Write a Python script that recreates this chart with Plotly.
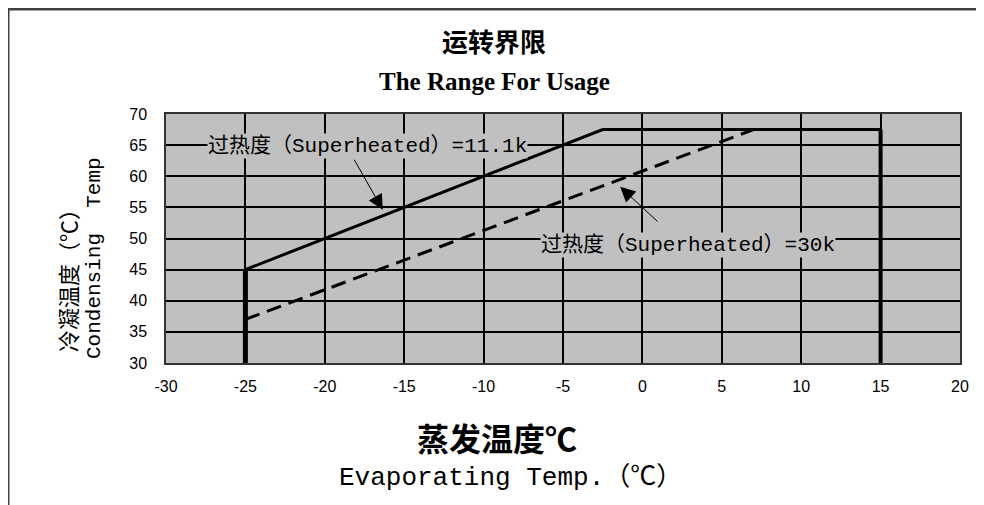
import plotly.graph_objects as go

# ---- data ----
x_ticks = [-30, -25, -20, -15, -10, -5, 0, 5, 10, 15, 20]
x_tick_labels = ["-30", "-25", "-20", "-15", "-10", "-5", "0", "5", "10", "15", "20"]
y_ticks = [30, 35, 40, 45, 50, 55, 60, 65, 70]
y_tick_labels = ["30", "35", "40", "45", "50", "55", "60", "65", "70"]

# superheat 11.1k envelope (solid)
sh11_x = [-25, -2.5, 15]
sh11_y = [45, 67.5, 67.5]
left_wall_x = [-25, -25]
left_wall_y = [30, 45]
right_wall_x = [15, 15]
right_wall_y = [30, 67.5]

# superheat 30k line (dashed)
sh30_x = [-25, 7]
sh30_y = [37, 67.5]

label_11 = "过热度（Superheated）=11.1k"
label_30 = "过热度（Superheated）=30k"
label_11_pos = (-17.3, 64.9)
label_30_pos = (2.9, 49.0)
arrow_11 = ((-18.2, 62.9), (-16.35, 54.6))  # (tail, tip)
arrow_30 = ((1.05, 52.5), (-1.4, 58.3))

title_cn = "运转界限"
title_en = "The Range For Usage"
xtitle_cn = "蒸发温度℃"
xtitle_en = "Evaporating Temp.（℃）"
ytitle_cn = "冷凝温度（℃）"
ytitle_en = "Condensing  Temp"

# page has an 8px body margin: work in screen pixels, convert to figure pixels
OFF = 8
W, H = 984 - OFF, 505 - OFF
PL, PR, PT, PB = 166, 960, 114, 363  # plot box in screen pixels
L, R, T, B = PL - OFF, (W + OFF) - PR, PT - OFF, (H + OFF) - PB
PW, PH = W - L - R, H - T - B


def px(xs):
    return (xs - OFF - L) / PW


def py(ys):
    return 1 - (ys - OFF - T) / PH


fig = go.Figure()
fig.add_trace(go.Scatter(x=sh30_x, y=sh30_y, mode="lines",
                         line=dict(color="black", width=3, dash="15px,8px"),
                         showlegend=False, hoverinfo="skip"))
fig.add_trace(go.Scatter(x=sh11_x, y=sh11_y, mode="lines",
                         line=dict(color="black", width=3),
                         showlegend=False, hoverinfo="skip"))
fig.add_trace(go.Scatter(x=left_wall_x, y=left_wall_y, mode="lines",
                         line=dict(color="black", width=5),
                         showlegend=False, hoverinfo="skip"))
fig.add_trace(go.Scatter(x=right_wall_x, y=right_wall_y, mode="lines",
                         line=dict(color="black", width=4),
                         showlegend=False, hoverinfo="skip"))

mono = "Liberation Mono, Noto Sans CJK SC"
tick_font = dict(family="Liberation Sans, Arial", size=16, color="black")

fig.update_xaxes(range=[-30, 20], tickvals=x_ticks, ticktext=x_tick_labels, showgrid=True,
                 gridcolor="black", gridwidth=1.5, zeroline=False,
                 showline=True, linecolor="#333", linewidth=1.5, mirror=True,
                 ticks="", tickfont=tick_font, ticklabelstandoff=8)
fig.update_yaxes(range=[30, 70], tickvals=y_ticks, ticktext=y_tick_labels, showgrid=True,
                 gridcolor="black", gridwidth=1.5, zeroline=False,
                 showline=True, linecolor="#333", linewidth=1.5, mirror=True,
                 ticks="", tickfont=tick_font, ticklabelstandoff=14)

ann = []
for txt, (lx, ly) in [(label_11, label_11_pos), (label_30, label_30_pos)]:
    ann.append(dict(x=lx, y=ly, xref="x", yref="y", text=txt, showarrow=False,
                    xanchor="center", yanchor="middle",
                    font=dict(family=mono, size=21, color="black"),
                    bgcolor="#c0c0c0", borderpad=0))
for (tail, tip) in [arrow_11, arrow_30]:
    ann.append(dict(x=tip[0], y=tip[1], ax=tail[0], ay=tail[1], xref="x", yref="y",
                    axref="x", ayref="y", text="", showarrow=True,
                    arrowhead=2, arrowsize=3, arrowwidth=1, arrowcolor="black"))


def paper_text(xs, ys, text, font, angle=0):
    return dict(x=px(xs), y=py(ys), xref="paper", yref="paper", text=text,
                showarrow=False, xanchor="center", yanchor="middle",
                textangle=angle, font=font)


ann.append(paper_text(494, 40, f"<b>{title_cn}</b>",
                      dict(family="Noto Sans CJK SC", size=26, color="black")))
ann.append(paper_text(494, 82, f"<b>{title_en}</b>",
                      dict(family="Liberation Serif", size=25, color="black")))
ann.append(paper_text(497, 437, f"<b>{xtitle_cn}</b>",
                      dict(family="Noto Sans CJK SC", size=32, color="black")))
ann.append(paper_text(510, 478, xtitle_en,
                      dict(family=mono, size=26, color="black")))
ann.append(paper_text(67, 275, ytitle_cn,
                      dict(family="Noto Sans CJK SC", size=22, color="black"), -90))
ann.append(paper_text(94, 258, ytitle_en,
                      dict(family=mono, size=21, color="black"), -90))

shapes = [
    dict(type="line", xref="paper", yref="paper", x0=px(8), x1=px(1000), y0=py(9), y1=py(9),
         line=dict(color="#404040", width=3)),
    dict(type="line", xref="paper", yref="paper", x0=px(8), x1=px(8), y0=py(9), y1=py(520),
         line=dict(color="#404040", width=3)),
]

fig.update_layout(width=W, height=H, margin=dict(l=L, r=R, t=T, b=B, autoexpand=False),
                  plot_bgcolor="#c0c0c0", paper_bgcolor="white",
                  annotations=ann, shapes=shapes, showlegend=False)

fig.write_html("out.html")
